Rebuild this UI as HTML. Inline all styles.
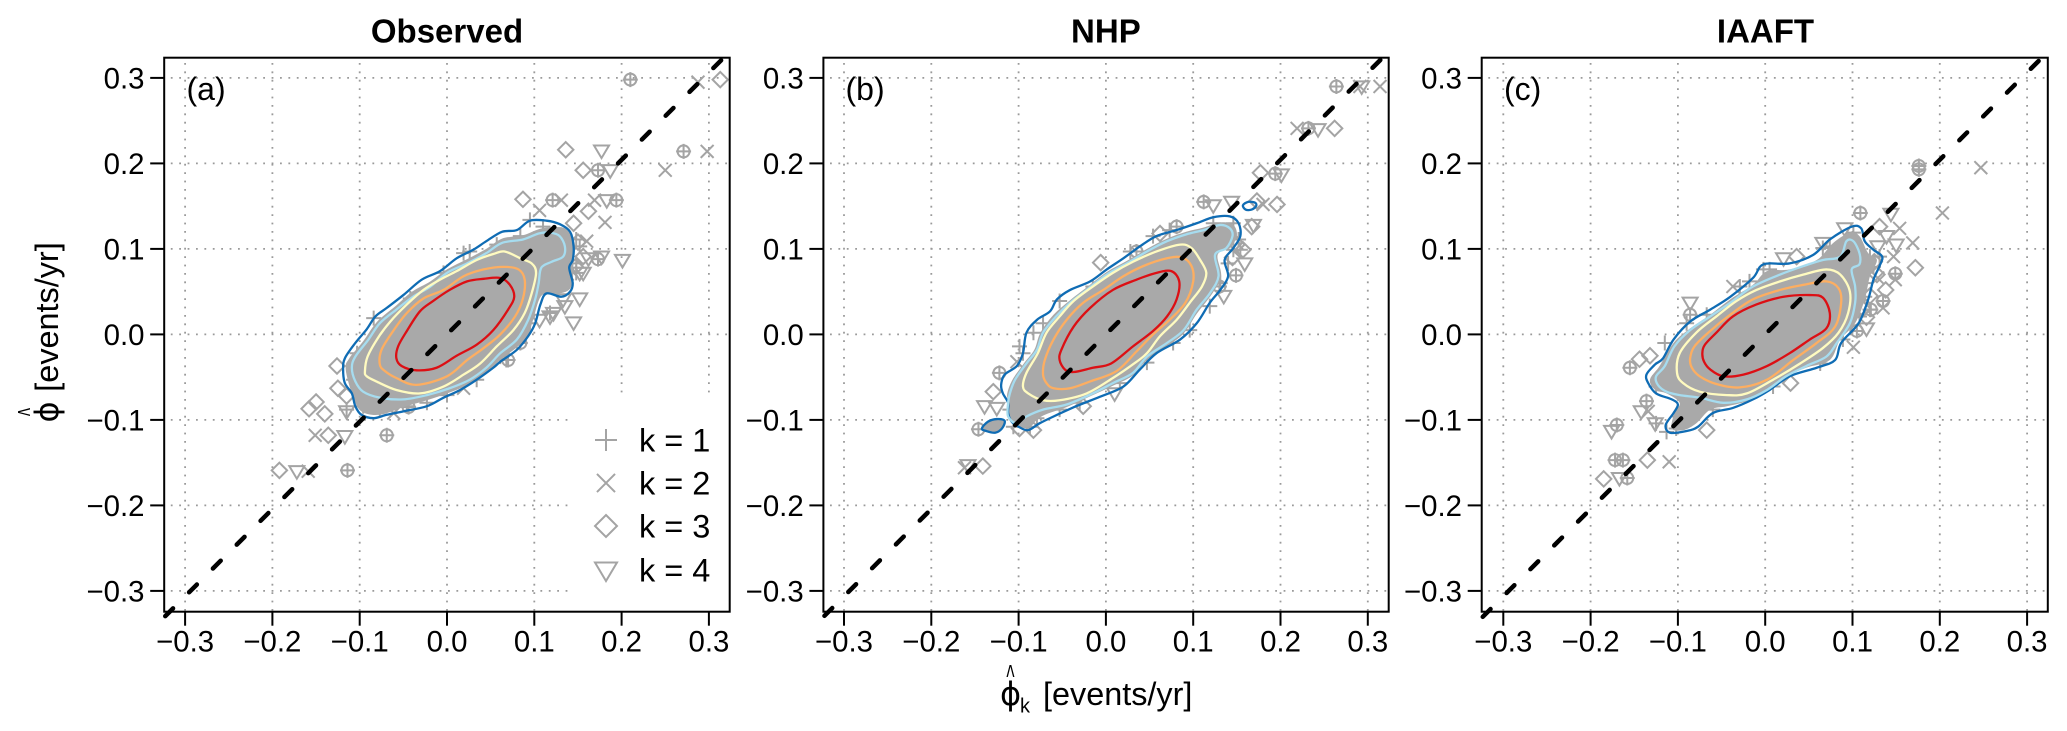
<!DOCTYPE html>
<html lang="en">
<head>
<meta charset="utf-8">
<title>Observed, NHP and IAAFT scatter comparison</title>
<style>
html,body{margin:0;padding:0;background:#fff;}
svg{display:block;font-family:"Liberation Sans",Arial,sans-serif;}
</style>
</head>
<body>
<svg id="chart" xmlns="http://www.w3.org/2000/svg" width="2067" height="731" viewBox="0 0 2067 731">
<rect x="0" y="0" width="2067" height="731" fill="#fff"/>
<g id="panels"></g>
<text x="447" y="42.5" text-anchor="middle" font-size="33" font-weight="bold">Observed</text>
<text x="1105.9" y="42.5" text-anchor="middle" font-size="33" font-weight="bold">NHP</text>
<text x="1765.5" y="42.5" text-anchor="middle" font-size="33" font-weight="bold">IAAFT</text>
<text x="186.5" y="100" font-size="32">(a)</text>
<text x="845.5" y="100" font-size="32">(b)</text>
<text x="1504" y="100" font-size="32">(c)</text>
<g>
<text transform="translate(1010.5,688) scale(0.58,1.1)" text-anchor="middle" font-size="30">^</text>
<text x="1010.5" y="705" text-anchor="middle" font-size="32" font-family="'DejaVu Sans',sans-serif">ϕ</text>
<text x="1020" y="712.5" font-size="20">k</text>
<text x="1043" y="705" font-size="32.4">[events/yr]</text>
</g>
<g transform="translate(58,391.7) rotate(-90)">
<text transform="translate(-20.3,-17) scale(0.58,1.1)" text-anchor="middle" font-size="30">^</text>
<text x="-20.3" y="0" text-anchor="middle" font-size="32" font-family="'DejaVu Sans',sans-serif">ϕ</text>
<text x="0" y="0" font-size="32.4">[events/yr]</text>
</g>
</svg>
<script>
const tickValues=[-0.3,-0.2,-0.1,0,0.1,0.2,0.3];
const tickLabels=['\u22120.3','\u22120.2','\u22120.1','0.0','0.1','0.2','0.3'];
const legendLabels=['k = 1','k = 2','k = 3','k = 4'];

const obsBlue=[[-.119,-.041],[-.117,-.028],[-.105,-.010],[-.092,.006],[-.082,.021],[-.069,.031],[-.050,.046],[-.029,.064],[-.008,.074],[.011,.089],[.030,.099],[.045,.109],[.063,.120],[.080,.122],[.095,.133],[.114,.133],[.129,.129],[.141,.120],[.145,.103],[.144,.087],[.140,.078],[.144,.060],[.141,.050],[.131,.044],[.114,.048],[.107,.035],[.101,.013],[.093,-.002],[.080,-.018],[.061,-.032],[.053,-.039],[.034,-.053],[.015,-.065],[-.004,-.074],[-.023,-.084],[-.050,-.090],[-.069,-.094],[-.084,-.098],[-.098,-.094],[-.105,-.084],[-.109,-.069],[-.117,-.057]];
const obsLightBlue=[[-.109,-.039],[-.105,-.026],[-.090,-.006],[-.077,.013],[-.058,.029],[-.039,.044],[-.019,.056],[0,.072],[.023,.083],[.045,.095],[.063,.107],[.087,.111],[.105,.118],[.118,.119],[.129,.115],[.135,.103],[.133,.091],[.120,.085],[.108,.078],[.105,.060],[.101,.041],[.093,.017],[.080,-.006],[.061,-.022],[.045,-.039],[.026,-.053],[.003,-.063],[-.023,-.071],[-.050,-.076],[-.077,-.074],[-.096,-.067],[-.105,-.055]];
const obsYellow=[[-.094,-.043],[-.091,-.026],[-.079,-.004],[-.065,.015],[-.046,.035],[-.027,.052],[-.008,.064],[.011,.074],[.034,.087],[.053,.094],[.066,.097],[.084,.089],[.097,.083],[.102,.072],[.097,.048],[.089,.025],[.076,.005],[.057,-.014],[.038,-.034],[.019,-.047],[-.004,-.061],[-.031,-.069],[-.058,-.065],[-.081,-.055],[-.092,-.049]];
const obsOrange=[[-.077,-.035],[-.075,-.018],[-.061,.005],[-.046,.025],[-.027,.042],[-.004,.052],[.019,.068],[.042,.076],[.065,.079],[.082,.076],[.089,.064],[.087,.042],[.078,.021],[.061,0],[.042,-.016],[.023,-.030],[0,-.049],[-.035,-.059],[-.058,-.051],[-.071,-.043]];
const obsRed=[[-.058,-.028],[-.056,-.014],[-.046,.004],[-.031,.027],[-.016,.039],[.003,.052],[.023,.062],[.042,.065],[.061,.066],[.072,.058],[.077,.044],[.070,.029],[.053,.005],[.034,-.012],[.011,-.025],[-.012,-.039],[-.035,-.042],[-.052,-.037]];
const obsDense=[[-.116,-.041],[-.112,-.028],[-.096,-.008],[-.080,.015],[-.058,.034],[-.040,.050],[-.019,.062],[0,.076],[.023,.088],[.045,.100],[.063,.112],[.087,.116],[.105,.123],[.118,.125],[.135,.124],[.146,.108],[.145,.085],[.142,.055],[.125,.047],[.108,.045],[.098,.015],[.090,-.006],[.061,-.030],[.045,-.045],[.026,-.058],[.003,-.068],[-.023,-.077],[-.050,-.085],[-.077,-.094],[-.098,-.090],[-.108,-.072]];
const obsK1=[[.019,.095],[.026,.097],[-.084,.019],[-.042,.042],[-.004,.072],[.095,.134],[.110,.126],[.148,.111],[.152,.103],[.148,.083],[.148,.072],[.137,.064],[.118,.025],[.095,.013],[.068,-.030],[.061,-.026],[-.023,-.080],[-.046,-.084],[-.077,-.088],[-.096,-.084],[-.107,-.053],[-.115,-.088],[-.058,-.084],[.084,.115],[.057,.105],[-.103,-.022],[.034,-.053],[0,-.071]];
const obsK2=[[.250,.192],[.106,.145],[.131,.157],[.169,.157],[.181,.131],[.160,.109],[-.151,-.118],[-.159,-.160],[.019,-.063],[-.061,-.092],[.2875,.295],[.298,.214]];
const obsK3=[[.136,.216],[.156,.192],[.087,.158],[.145,.130],[.162,.144],[-.126,-.037],[-.125,-.063],[-.150,-.079],[-.158,-.087],[-.140,-.093],[-.136,-.118],[-.192,-.159],[-.115,-.072],[.313,.298],[.150,.108],[.156,.091],[.147,.079]];
const obsK4=[[.177,.215],[.187,.192],[.183,.157],[.162,.089],[.201,.087],[.177,.091],[.152,.042],[.135,.033],[.145,.014],[.118,.021],[.106,.017],[-.117,-.119],[-.172,-.160],[-.115,-.090],[.152,.072],[.156,.072],[.133,.041],[.122,.025]];
const obsShared=[[.210,.298],[.173,.192],[.121,.157],[.194,.157],[.173,.088],[.084,-.010],[.070,-.030],[-.069,-.118],[-.114,-.159],[-.044,-.085],[.271,.214]];

const nhpBlue=[[-.120,-.059],[-.116,-.047],[-.102,-.037],[-.095,-.022],[-.091,.002],[-.079,.017],[-.064,.027],[-.056,.041],[-.041,.052],[-.018,.062],[.001,.076],[.020,.089],[.039,.103],[.058,.115],[.081,.122],[.104,.130],[.123,.137],[.142,.138],[.152,.130],[.154,.115],[.146,.101],[.136,.087],[.140,.068],[.131,.052],[.119,.037],[.104,.013],[.085,-.006],[.058,-.022],[.039,-.041],[.020,-.061],[-.007,-.073],[-.034,-.084],[-.060,-.096],[-.076,-.104],[-.089,-.112],[-.100,-.108],[-.108,-.102],[-.112,-.092],[-.112,-.080],[-.118,-.069]];
const nhpIslandLow=[[-.142,-.110],[-.135,-.102],[-.125,-.099],[-.116,-.101],[-.119,-.110],[-.127,-.115],[-.137,-.113]];
const nhpIslandHigh=[[.157,.151],[.163,.155],[.171,.154],[.172,.150],[.167,.146],[.160,.146]];
const nhpLightBlue=[[-.110,-.069],[-.104,-.053],[-.091,-.034],[-.079,-.018],[-.072,.002],[-.057,.021],[-.041,.037],[-.022,.052],[.001,.070],[.024,.083],[.047,.097],[.070,.109],[.092,.117],[.112,.122],[.131,.128],[.142,.124],[.145,.115],[.138,.101],[.125,.093],[.129,.068],[.119,.048],[.104,.029],[.089,.005],[.070,-.010],[.047,-.026],[.031,-.045],[.008,-.057],[-.015,-.069],[-.045,-.082],[-.072,-.088],[-.091,-.096],[-.102,-.104],[-.112,-.096],[-.112,-.080]];
const nhpYellow=[[-.095,-.061],[-.091,-.045],[-.078,-.022],[-.068,.002],[-.053,.021],[-.037,.039],[-.015,.056],[.008,.072],[.031,.085],[.058,.097],[.085,.105],[.098,.101],[.108,.087],[.115,.072],[.110,.056],[.096,.037],[.081,.017],[.062,-.002],[.047,-.022],[.031,-.035],[.008,-.051],[-.022,-.069],[-.053,-.077],[-.072,-.077],[-.089,-.069]];
const nhpOrange=[[-.072,-.047],[-.070,-.030],[-.060,-.006],[-.045,.017],[-.026,.037],[-.003,.052],[.020,.068],[.043,.080],[.070,.089],[.087,.090],[.098,.080],[.100,.062],[.091,.037],[.073,.017],[.054,0],[.035,-.020],[.012,-.043],[-.018,-.055],[-.041,-.063],[-.060,-.063],[-.068,-.057]];
const nhpRed=[[-.053,-.030],[-.051,-.018],[-.037,.009],[-.018,.031],[.008,.052],[.035,.064],[.058,.072],[.075,.074],[.084,.062],[.081,.041],[.070,.021],[.054,.004],[.031,-.014],[.006,-.034],[-.015,-.039],[-.037,-.044],[-.047,-.041]];
const nhpDense=[[-.113,-.069],[-.107,-.053],[-.094,-.034],[-.082,-.018],[-.075,.002],[-.060,.023],[-.041,.040],[-.022,.055],[.001,.073],[.024,.086],[.047,.100],[.070,.112],[.092,.120],[.112,.125],[.131,.131],[.146,.128],[.150,.115],[.142,.101],[.128,.093],[.132,.068],[.122,.048],[.104,.024],[.089,.001],[.070,-.014],[.047,-.030],[.031,-.048],[.008,-.060],[-.015,-.071],[-.045,-.085],[-.072,-.095],[-.090,-.109],[-.101,-.106],[-.112,-.096],[-.112,-.080]];
const nhpK1=[[-.099,-.014],[-.083,.002],[-.072,.013],[-.053,.039],[-.095,-.022],[-.015,.056],[.028,.097],[.054,.115],[.073,.122],[.123,.130],[.146,.130],[.152,.111],[.146,.099],[.131,.060],[.119,.033],[.096,.005],[.077,-.010],[.047,-.033],[.016,-.057],[-.030,-.080],[-.053,-.088],[-.110,-.088],[-.079,-.098],[-.087,-.108],[-.106,-.108],[.140,.083],[.154,.099]];
const nhpK2=[[.219,.241],[.180,.152],[.314,.290],[-.162,-.156],[-.102,-.032],[.291,.290]];
const nhpK3=[[-.006,.084],[.177,.189],[.196,.152],[.262,.241],[-.129,-.067],[-.026,-.084],[.167,.126],[.173,.156],[-.083,-.112],[-.099,-.110],[-.141,-.154],[.062,.118],[.157,.099],[.150,.105],[.145,.090]];
const nhpK4=[[.123,.151],[.144,.155],[.201,.187],[.243,.240],[.159,.083],[.169,.128],[-.139,-.084],[-.125,-.086],[.010,-.069],[-.158,-.153],[.293,.290],[.135,.045]];
const nhpShared=[[.264,.290],[.112,.155],[.194,.188],[.232,.241],[-.146,-.111],[-.122,-.045],[.035,.097],[.081,.126],[.149,.069],[.130,.056]];

const iaaftBlue=[[-.136,-.047],[-.126,-.035],[-.117,-.028],[-.105,-.006],[-.086,.015],[-.063,.029],[-.040,.044],[-.014,.066],[-.002,.082],[.028,.083],[.055,.093],[.074,.111],[.099,.126],[.110,.124],[.114,.109],[.124,.099],[.134,.091],[.131,.080],[.124,.064],[.118,.041],[.107,.013],[.087,-.010],[.080,-.030],[.059,-.039],[.028,-.049],[.005,-.065],[-.014,-.076],[-.037,-.086],[-.060,-.092],[-.077,-.108],[-.090,-.113],[-.109,-.115],[-.114,-.106],[-.105,-.092],[-.100,-.082],[-.107,-.076],[-.125,-.069],[-.134,-.057]];
const iaaftLightBlue=[[-.125,-.049],[-.115,-.037],[-.104,-.014],[-.086,.005],[-.063,.021],[-.040,.037],[-.014,.056],[.017,.070],[.044,.080],[.066,.087],[.086,.091],[.093,.109],[.101,.109],[.108,.095],[.108,.082],[.099,.076],[.103,.056],[.103,.037],[.097,.013],[.082,-.010],[.070,-.026],[.047,-.037],[.024,-.049],[.002,-.065],[-.021,-.076],[-.048,-.080],[-.075,-.074],[-.098,-.071],[-.113,-.067],[-.123,-.059]];
const iaaftYellow=[[-.101,-.045],[-.098,-.022],[-.079,.002],[-.056,.021],[-.033,.039],[-.010,.052],[.017,.062],[.044,.070],[.070,.076],[.086,.070],[.097,.050],[.095,.025],[.084,.002],[.066,-.016],[.040,-.034],[.009,-.053],[-.021,-.069],[-.044,-.071],[-.075,-.067],[-.094,-.057]];
const iaaftOrange=[[-.086,-.028],[-.081,-.014],[-.063,.004],[-.040,.023],[-.014,.041],[.017,.052],[.044,.058],[.070,.062],[.084,.054],[.087,.037],[.080,.009],[.059,-.010],[.032,-.030],[.002,-.053],[-.029,-.062],[-.056,-.058],[-.075,-.049],[-.084,-.039]];
const iaaftRed=[[-.072,-.022],[-.069,-.012],[-.056,.002],[-.037,.021],[-.010,.035],[.021,.044],[.051,.046],[.066,.043],[.074,.025],[.070,.007],[.051,-.006],[.028,-.022],[.002,-.037],[-.025,-.047],[-.048,-.049],[-.063,-.041],[-.070,-.032]];
const iaaftDense=[[-.132,-.053],[-.121,-.037],[-.105,-.010],[-.086,.007],[-.063,.023],[-.040,.041],[-.014,.058],[.002,.074],[.028,.076],[.059,.087],[.078,.107],[.097,.119],[.108,.115],[.118,.095],[.128,.087],[.120,.068],[.114,.041],[.103,.013],[.086,-.006],[.074,-.030],[.047,-.039],[.024,-.049],[.002,-.065],[-.021,-.078],[-.044,-.084],[-.063,-.088],[-.079,-.104],[-.094,-.112],[-.107,-.110],[-.104,-.092],[-.098,-.080],[-.113,-.069],[-.126,-.065]];
const iaaftK1=[[-.002,.076],[.005,.076],[-.029,.056],[-.018,.062],[.074,.103],[.066,.101],[.101,.119],[.120,.091],[.124,.079],[.114,.060],[.114,.044],[.108,.021],[.089,-.006],[.063,-.034],[.009,-.061],[-.060,-.088],[-.083,-.092],[-.098,-.096],[-.102,-.110],[-.113,-.114],[-.121,-.049],[-.125,-.061],[-.115,-.010],[-.090,.013],[-.067,.023],[.131,.091],[.120,.029],[-.125,-.104]];
const iaaftK2=[[.247,.195],[.203,.142],[.154,.124],[.169,.107],[.149,.064],[.135,.031],[.101,-.015],[-.110,-.149],[-.134,-.090],[.129,.066],[-.037,.056],[.147,.091]];
const iaaftK3=[[.172,.078],[.138,.052],[.131,.126],[.029,-.057],[-.067,-.112],[-.144,-.029],[-.132,-.025],[-.185,-.169],[-.135,-.147],[.036,.091],[.120,.045],[.128,.070],[.112,.030],[.125,.085],[.116,.020]];
const iaaftK4=[[.144,.141],[.150,.105],[.139,.115],[.091,.124],[.066,.107],[.021,.089],[-.086,.037],[.116,.007],[-.126,-.104],[-.142,-.090],[-.176,-.113],[-.167,-.168],[.129,.103]];
const iaaftShared=[[.176,.197],[.109,.142],[.149,.071],[.135,.039],[.121,.029],[.105,.004],[-.086,.023],[-.155,-.039],[-.170,-.106],[-.136,-.078],[-.172,-.147],[-.163,-.147],[-.158,-.168],[.176,.193]];

const NS='http://www.w3.org/2000/svg';
const xScale=873, yScale=855, yZero=334.4, frameTop=57.7, frameBottom=611.7;
const GRAY='#a4a4a4';
const root=document.getElementById('panels');

function make(tag,parent,props){
  const el=document.createElementNS(NS,tag);
  for(const k in props){el.setAttribute(k,props[k]);}
  parent.appendChild(el);
  return el;
}
function closedSmoothPath(pts){
  const n=pts.length;
  let d='M'+pts[0][0].toFixed(2)+' '+pts[0][1].toFixed(2);
  for(let i=0;i<n;i++){
    const p0=pts[(i-1+n)%n],p1=pts[i],p2=pts[(i+1)%n],p3=pts[(i+2)%n];
    const c1x=p1[0]+(p2[0]-p0[0])/6,c1y=p1[1]+(p2[1]-p0[1])/6;
    const c2x=p2[0]-(p3[0]-p1[0])/6,c2y=p2[1]-(p3[1]-p1[1])/6;
    d+='C'+c1x.toFixed(2)+' '+c1y.toFixed(2)+' '+c2x.toFixed(2)+' '+c2y.toFixed(2)+' '+p2[0].toFixed(2)+' '+p2[1].toFixed(2);
  }
  return d+'Z';
}
function drawGlyph(g,kind,cx,cy,s,sw){
  const a={fill:'none',stroke:GRAY,'stroke-width':sw};
  if(kind==='k1'||kind==='shared'){
    make('path',g,Object.assign({d:'M'+(cx-s)+' '+cy+'H'+(cx+s)+'M'+cx+' '+(cy-s)+'V'+(cy+s)},a));
  }
  if(kind==='shared'){
    make('circle',g,Object.assign({cx:cx,cy:cy,r:s*0.8},a));
  }
  if(kind==='k2'){
    const t=s*0.86;
    make('path',g,Object.assign({d:'M'+(cx-t)+' '+(cy-t)+'L'+(cx+t)+' '+(cy+t)+'M'+(cx-t)+' '+(cy+t)+'L'+(cx+t)+' '+(cy-t)},a));
  }
  if(kind==='k3'){
    make('path',g,Object.assign({d:'M'+cx+' '+(cy-s)+'L'+(cx+s)+' '+cy+'L'+cx+' '+(cy+s)+'L'+(cx-s)+' '+cy+'Z'},a));
  }
  if(kind==='k4'){
    make('path',g,Object.assign({d:'M'+(cx-s)+' '+(cy-s*0.68)+'H'+(cx+s)+'L'+cx+' '+(cy+s)+'Z'},a));
  }
}

const contourStyles=[['blue','#0f6cb4'],['light-blue','#a6dcef'],['yellow','#fffbc0'],['orange','#fdae61'],['red','#dc0f14']];

const panels=[
 {id:'a',x0:447,left:164.2,right:729.7,contours:[obsBlue,obsLightBlue,obsYellow,obsOrange,obsRed],dense:[obsDense],islands:[],series:{k1:obsK1,k2:obsK2,k3:obsK3,k4:obsK4,shared:obsShared},legend:true},
 {id:'b',x0:1105.9,left:823.4,right:1388.7,contours:[nhpBlue,nhpLightBlue,nhpYellow,nhpOrange,nhpRed],dense:[nhpDense,nhpIslandLow],islands:[nhpIslandLow,nhpIslandHigh],series:{k1:nhpK1,k2:nhpK2,k3:nhpK3,k4:nhpK4,shared:nhpShared},legend:false},
 {id:'c',x0:1765.2,left:1481.7,right:2047.8,contours:[iaaftBlue,iaaftLightBlue,iaaftYellow,iaaftOrange,iaaftRed],dense:[iaaftDense],islands:[],series:{k1:iaaftK1,k2:iaaftK2,k3:iaaftK3,k4:iaaftK4,shared:iaaftShared},legend:false}
];

panels.forEach(function(p){
  const X=function(v){return p.x0+v*xScale;};
  const Y=function(v){return yZero-v*yScale;};
  const toPx=function(arr){return arr.map(function(d){return [X(d[0]),Y(d[1])];});};

  const g=make('g',root,{});
  
  

  tickValues.forEach(function(t,i){
    const h=make('line',g,{x1:p.left+6.6,x2:p.right-1,y1:Y(t),y2:Y(t),stroke:'#9a9a9a','stroke-width':1.8,'stroke-dasharray':'1.8 6.6'});
    
    
    const v=make('line',g,{x1:X(t),x2:X(t),y1:frameTop+5.3,y2:frameBottom-1,stroke:'#9a9a9a','stroke-width':1.8,'stroke-dasharray':'1.8 6.6'});
    
    
  });

  if(p.legend){
    const box=make('rect',g,{x:572,y:394,width:p.right-572,height:frameBottom-394,fill:'#fff'});
    
    
  }

  const pts=make('g',g,{});
  
  
  const sizes={k1:7.5,k2:7.5,k3:7.7,k4:7.5,shared:7.5};
  Object.keys(p.series).forEach(function(key){
    p.series[key].forEach(function(d){
      const m=make('g',pts,{});
      
      
      drawGlyph(m,key,X(d[0]),Y(d[1]),sizes[key],2);
    });
  });

  p.dense.forEach(function(arr){
    const f=make('path',g,{d:closedSmoothPath(toPx(arr)),fill:'#a9a9a9',stroke:'none'});
    
    
  });

  p.contours.forEach(function(arr,i){
    const c=make('path',g,{d:closedSmoothPath(toPx(arr)),fill:'none',stroke:contourStyles[i][1],'stroke-width':2.3});
    
    
  });
  p.islands.forEach(function(arr){
    const c=make('path',g,{d:closedSmoothPath(toPx(arr)),fill:'none',stroke:contourStyles[0][1],'stroke-width':2.3});
    
    
  });

  const xa=(p.left-p.x0)/xScale, xb=(p.right-p.x0)/xScale;
  const one=make('line',g,{x1:X(xa),y1:Y(xa*xScale/yScale),x2:X(xb),y2:Y(xb*xScale/yScale),stroke:'#000','stroke-width':4.5,'stroke-linecap':'round','stroke-dasharray':'11 22.7','stroke-dashoffset':-1.5});
  
  

  if(p.legend){
    const kinds=['k1','k2','k3','k4'];
    const legendY=[440,483,526,570];
    const legendS=[11,10.5,11,11];
    legendLabels.forEach(function(label,i){
      const e=make('g',g,{});
      
      
      drawGlyph(e,kinds[i],606,legendY[i],legendS[i],2);
      const t=make('text',e,{x:639,y:legendY[i]+11.5,'font-size':32.5});
      t.textContent=label;
    });
  }

  const frame=make('rect',g,{x:p.left,y:frameTop,width:p.right-p.left,height:frameBottom-frameTop,fill:'none',stroke:'#000','stroke-width':2});
  
  

  tickValues.forEach(function(t,i){
    const xt=make('line',g,{x1:X(t),x2:X(t),y1:frameBottom,y2:frameBottom+14,stroke:'#000','stroke-width':2});
    
    
    const yt=make('line',g,{x1:p.left-14,x2:p.left,y1:Y(t),y2:Y(t),stroke:'#000','stroke-width':2});
    
    
    const xl=make('text',g,{x:X(t),y:651.7,'text-anchor':'middle','font-size':29.4});
    
    
    xl.textContent=tickLabels[i];
    const yl=make('text',g,{x:p.left-19.7,y:Y(t)+10.5,'text-anchor':'end','font-size':29.4});
    
    
    yl.textContent=tickLabels[i];
  });
});
</script>
</body>
</html>
